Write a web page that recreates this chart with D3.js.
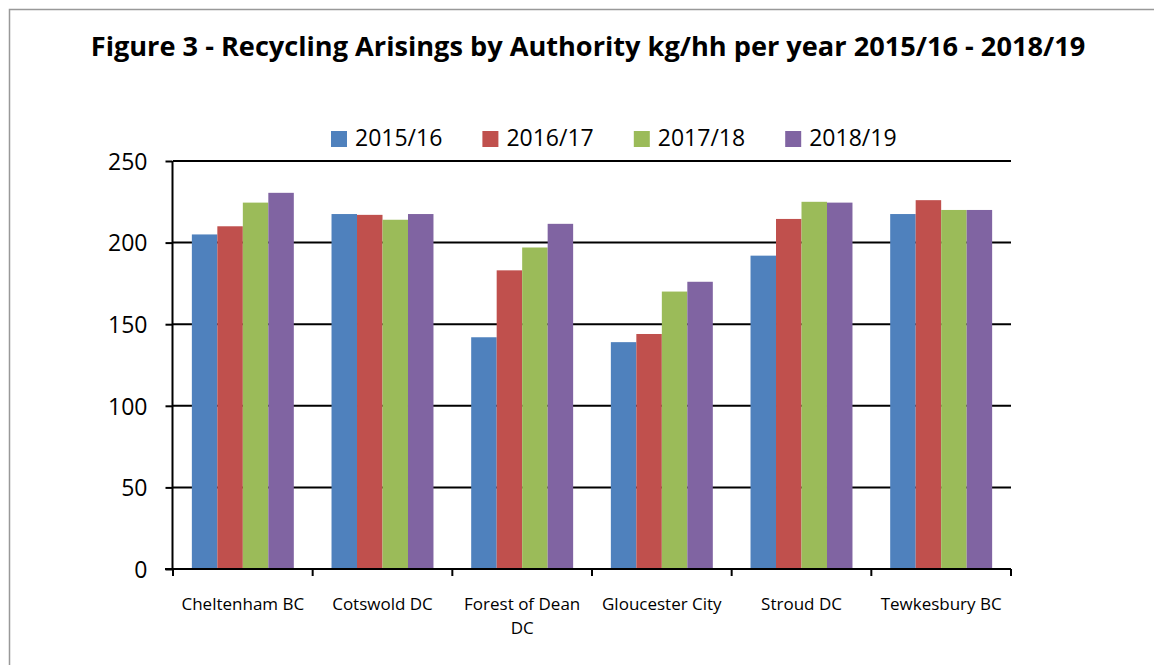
<!DOCTYPE html>
<html>
<head>
<meta charset="utf-8">
<script src="https://cdn.jsdelivr.net/npm/d3@7"></script>
<style>
  body { margin: 0; background: #fff; }
  svg { display: block; }
</style>
</head>
<body>
<svg id="chart" width="1154" height="665"></svg>
<script>
// datos
var categorias = ["Cheltenham BC", "Cotswold DC", "Forest of Dean DC", "Gloucester City", "Stroud DC", "Tewkesbury BC"];
var series = ["2015/16", "2016/17", "2017/18", "2018/19"];
var valores1516 = [205, 217.5, 142, 139, 192, 217.5];
var valores1617 = [210, 217, 183, 144, 214.5, 226];
var valores1718 = [224.5, 214, 197, 170, 225, 220];
var valores1819 = [230.5, 217.5, 211.5, 176, 224.5, 220];
var ticksY = [0, 50, 100, 150, 200, 250];
var colores = ["#4F81BD", "#C0504D", "#9BBB59", "#8064A2"];

var datosSeries = [valores1516, valores1617, valores1718, valores1819];

var svg = d3.select("#chart");
var fuente = "'Open Sans', 'Noto Sans', sans-serif";

// marco gris
svg.append("rect")
    .attr("x", 9.5).attr("y", 9.5)
    .attr("width", 1200).attr("height", 700)
    .attr("fill", "none")
    .attr("stroke", "#999")
    .attr("stroke-width", 1.5);

// titulo, ajustado al ancho
var titulo = svg.append("text")
    .attr("x", 588)
    .attr("y", 56)
    .attr("text-anchor", "middle")
    .style("font-family", fuente)
    .style("font-weight", "bold")
    .style("font-size", "25px")
    .text("Figure 3 - Recycling Arisings by Authority kg/hh per year 2015/16 - 2018/19");
var largo = titulo.node().getComputedTextLength();
titulo.style("font-size", (25 * 995 / largo) + "px");

var izq = 173, der = 1011, arriba = 161, abajo = 569;

var x0 = d3.scaleBand()
    .domain(categorias)
    .range([izq, der])
    .paddingInner(0.27)
    .paddingOuter(0.135);

var x1 = d3.scaleBand()
    .domain(series)
    .range([0, x0.bandwidth()]);

var y = d3.scaleLinear()
    .domain([0, 250])
    .range([abajo, arriba]);

// lineas de cuadricula
svg.append("g")
    .selectAll("line")
    .data(ticksY.filter(function (d) { return d > 0; }))
    .join("line")
    .attr("x1", izq).attr("x2", der)
    .attr("y1", function (d) { return y(d); })
    .attr("y2", function (d) { return y(d); })
    .attr("stroke", "#000")
    .attr("stroke-width", 2);

// barras
var grupos = svg.append("g")
    .selectAll("g")
    .data(categorias)
    .join("g")
    .attr("transform", function (d) { return "translate(" + x0(d) + ",0)"; });

grupos.selectAll("rect")
    .data(function (d, i) {
        return series.map(function (s, j) { return { serie: s, valor: datosSeries[j][i], indice: j }; });
    })
    .join("rect")
    .attr("x", function (d) { return x1(d.serie); })
    .attr("width", x1.bandwidth())
    .attr("y", function (d) { return y(d.valor); })
    .attr("height", function (d) { return y(0) - y(d.valor); })
    .attr("fill", function (d) { return colores[d.indice]; });

// eje Y
var ejeY = svg.append("g")
    .attr("transform", "translate(" + (izq - 0.5) + ",0)")
    .call(d3.axisLeft(y).tickValues(ticksY).tickSize(7).tickPadding(6));
ejeY.select(".domain").attr("stroke", "#000").attr("stroke-width", 2).attr("d", "M0," + arriba + "V" + abajo);
ejeY.selectAll(".tick line").attr("stroke", "#000").attr("stroke-width", 2);
ejeY.selectAll(".tick text")
    .style("font-family", fuente)
    .style("font-size", "23px")
    .attr("fill", "#000")
    .attr("dy", "0.36em")
    .attr("x", -25);

// eje X
var paso = x0.step();
var ejeX = svg.append("g");
ejeX.append("line")
    .attr("x1", izq - 8).attr("x2", der)
    .attr("y1", abajo).attr("y2", abajo)
    .attr("stroke", "#000").attr("stroke-width", 2);
ejeX.selectAll(".marca")
    .data(d3.range(categorias.length + 1))
    .join("line")
    .attr("class", "marca")
    .attr("x1", function (i) { return izq + i * paso; })
    .attr("x2", function (i) { return izq + i * paso; })
    .attr("y1", abajo).attr("y2", abajo + 7)
    .attr("stroke", "#000").attr("stroke-width", 2);

var etiquetas = ejeX.selectAll(".etiqueta")
    .data(categorias)
    .join("text")
    .attr("class", "etiqueta")
    .attr("text-anchor", "middle")
    .style("font-family", fuente)
    .style("font-size", "17px")
    .attr("fill", "#000")
    .attr("y", 610);

// partir etiquetas largas en dos lineas
etiquetas.each(function (d) {
    var t = d3.select(this);
    var cx = x0(d) + x0.bandwidth() / 2;
    var palabras = d.split(" ");
    var linea = [];
    var lineas = [];
    var tmp = t.append("tspan");
    palabras.forEach(function (p) {
        linea.push(p);
        tmp.text(linea.join(" "));
        if (tmp.node().getComputedTextLength() > paso - 6 && linea.length > 1) {
            linea.pop();
            lineas.push(linea.join(" "));
            linea = [p];
        }
    });
    lineas.push(linea.join(" "));
    tmp.remove();
    lineas.forEach(function (l, k) {
        t.append("tspan").attr("x", cx).attr("dy", k === 0 ? 0 : 24).text(l);
    });
});

// leyenda
var leyenda = svg.append("g")
    .selectAll("g")
    .data(series)
    .join("g")
    .attr("transform", function (d, i) { return "translate(" + (331 + i * 151.4) + ",131)"; });
leyenda.append("rect")
    .attr("width", 16).attr("height", 16)
    .attr("fill", function (d, i) { return colores[i]; });
leyenda.append("text")
    .attr("x", 24)
    .attr("y", 15)
    .style("font-family", fuente)
    .style("font-size", "23px")
    .attr("fill", "#000")
    .text(function (d) { return d; });
</script>
</body>
</html>
